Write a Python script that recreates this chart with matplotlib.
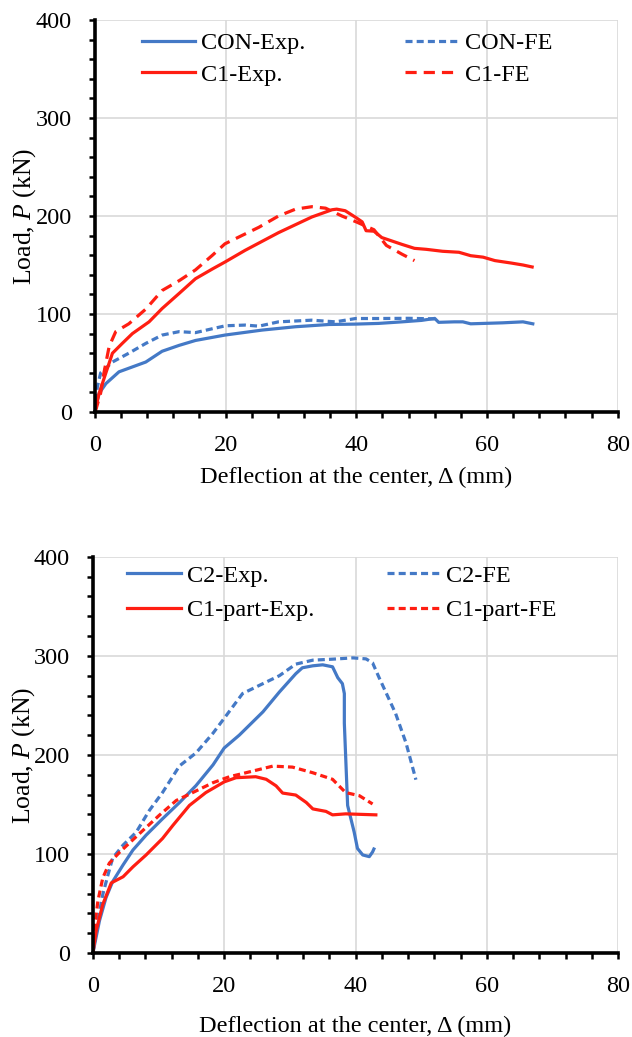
import numpy as np
import matplotlib
matplotlib.use('Agg')
import matplotlib.pyplot as plt
from matplotlib.ticker import MultipleLocator

plt.rcParams['font.family'] = ['Liberation Serif', 'DejaVu Serif']
plt.rcParams['mathtext.fontset'] = 'custom'
plt.rcParams['mathtext.rm'] = 'Liberation Serif'
plt.rcParams['mathtext.it'] = 'Liberation Serif:italic'

# --- top panel data (deflection mm, load kN) ---
con_exp_x = [0, 0.3, 0.66, 1.7, 3.7, 5.75, 7.8, 10.3, 12.9, 15.4, 19.9, 25.6, 30.7, 35.8, 39.9, 43.4,
             47, 50, 52, 52.6, 55, 56.3, 57.5, 60, 62.4, 65.5, 67]
con_exp_y = [0, 10, 19, 29, 41, 46, 51, 62, 68, 73, 78.5, 83.6, 87, 89.3, 89.7, 90.4,
             92, 93.5, 95.5, 91.5, 92, 92, 90, 90.5, 91, 92, 90]
con_fe_x = [0, 0.4, 0.9, 2.7, 5.2, 7.8, 10.3, 12.9, 15.4, 18, 20, 23, 25.1, 28.1, 33.2, 36.8, 39.9, 43.4, 48, 52]
con_fe_y = [0, 26, 40, 51, 60, 70, 78.5, 82, 81, 85, 88, 88.7, 87.6, 92, 93.7, 92, 95.4, 95.4, 95.6, 95]
c1_exp_x = [0, 0.66, 1.7, 2.7, 4.2, 5.75, 8.3, 10.3, 12.9, 15.4, 18, 19.9, 23, 28.1, 33.2, 36.3, 37, 38.3,
            39.9, 40.9, 41.5, 42.7, 43.9, 47, 48.9, 50.7, 53.2, 55.7, 57.5, 59.4, 61.2, 63.7, 65.5, 66.9]
c1_exp_y = [0, 19, 40, 60, 70, 80, 92, 105.6, 121, 136, 146, 153, 165, 183, 199, 206.4, 207, 205.4,
            198.6, 194, 185, 184.5, 178, 171, 167, 166, 164, 163, 159.5, 158, 154.5, 152, 150, 148]
c1_fe_x = [0, 0.15, 0.9, 1.4, 2.2, 3.2, 5.2, 7.8, 10.3, 12.9, 15.4, 18, 19.9, 23, 25.1, 28.1, 30.7, 33.2,
           35.3, 37.8, 40, 42.7, 44.6, 47, 48.9]
c1_fe_y = [0, 2, 19.5, 40, 67, 82, 90, 105, 124, 134, 145, 160, 171.6, 181.7, 188.5, 200, 207, 209.5,
           208, 200, 194, 186, 170, 161, 154.5]

# --- bottom panel data ---
c2_exp_x = [0, 1, 2, 3, 4.6, 6.1, 8.1, 10.6, 13.2, 15.7, 18.3, 20, 22.3, 25.9, 28.4, 30.9, 31.9, 33.5, 35,
            36.5, 37.3, 38, 38.3, 38.3, 38.5, 38.8, 39.3, 39.8, 40.3, 41.1, 42.1, 42.6, 42.8]
c2_exp_y = [0, 32.6, 56, 72, 89, 104, 119, 135.5, 152, 169, 190, 207, 220, 243.5, 263.5, 282, 288, 290, 291,
            289, 278, 272, 262, 232, 198.7, 149, 135.5, 122, 105.6, 99, 97.3, 102, 105]
c2_fe_x = [0, 0.76, 1.5, 2.3, 3, 4.6, 6.6, 8.6, 10.6, 13.2, 15.7, 18.3, 20, 22.8, 25.9, 28.4, 30.9, 33.5,
           36.5, 39.6, 41.6, 42.6, 43.6, 46.1, 47.7, 49.2]
c2_fe_y = [0, 32.6, 59, 79, 95.7, 109, 122, 144, 162, 189, 202, 222, 237, 262, 272, 280, 291.7, 295.7,
           296.7, 298, 297, 293, 278, 242, 212, 175]
c1p_exp_x = [0, 0.5, 1.5, 2.8, 4.6, 6.1, 8.1, 10.6, 12.2, 14.7, 17.2, 20, 21.8, 24.8, 26.4, 27.9, 28.9,
             30.9, 32.5, 33.5, 35.5, 36.5, 38.5, 43.1]
c1p_exp_y = [0, 22.6, 49, 70.8, 77, 87, 99, 115.6, 129, 149, 162, 172.8, 177, 178, 175.4, 168.8, 161.5,
             159.5, 152, 145.5, 143, 139.5, 140.5, 139.5]
c1p_fe_x = [0, 0.25, 0.76, 1.5, 2.5, 4.1, 7.1, 10.1, 12.7, 15.2, 18.3, 20.8, 23.3, 27.4, 30.4, 33.5,
            36.5, 38.5, 40.6, 42.6]
c1p_fe_y = [0, 26, 52.5, 75.7, 90.7, 102, 120.6, 139, 154, 162, 172, 178, 182, 188.7, 187.7, 182,
            175.4, 162, 158.8, 150.5]

blue = '#4479C6'
red = '#FF1E12'
lw = 2.3
fs = 17.5

fig = plt.figure(figsize=(6.32, 10.37), dpi=100)
ax1 = fig.add_axes([0.150, 0.6027, 0.8275, 0.378])
ax2 = fig.add_axes([0.147, 0.081, 0.831, 0.382])


def style(ax):
    ax.set_xlim(0, 80)
    ax.set_ylim(0, 400)
    ax.xaxis.set_major_locator(MultipleLocator(20))
    ax.xaxis.set_minor_locator(MultipleLocator(4))
    ax.yaxis.set_major_locator(MultipleLocator(100))
    ax.yaxis.set_minor_locator(MultipleLocator(20))
    ax.grid(True, which='major', color='#d9d9d9', lw=1.2)
    ax.set_axisbelow(True)
    for s in ['top', 'right']:
        ax.spines[s].set_visible(False)
    for s in ['left', 'bottom']:
        ax.spines[s].set_linewidth(2.6)
    ax.tick_params(which='both', direction='out', length=4.5, width=1.8, labelsize=fs, pad=12)
    ax.set_ylabel('Load, $\\mathit{P}$ (kN)', fontsize=18.5, labelpad=-2)


# top panel
ax1.plot(con_exp_x, con_exp_y, color=blue, lw=lw, label='CON-Exp.')
ax1.plot(con_fe_x, con_fe_y, color=blue, lw=lw, dashes=(2.2, 1.3), label='CON-FE')
ax1.plot(c1_exp_x, c1_exp_y, color=red, lw=lw, label='C1-Exp.')
ax1.plot(c1_fe_x, c1_fe_y, color=red, lw=lw, dashes=(3.5, 2.2), label='C1-FE')
style(ax1)
ax1.set_xlabel('Deflection at the center, Δ (mm)', fontsize=fs, labelpad=8)
h, l = ax1.get_legend_handles_labels()
order = [0, 2, 1, 3]
ax1.legend([h[i] for i in order], [l[i] for i in order], ncol=2, frameon=False, fontsize=fs,
           loc='upper left', bbox_to_anchor=(0.09, 0.969), borderaxespad=0, borderpad=0,
           handlelength=2.2, handletextpad=0.25, columnspacing=4.1, labelspacing=0.39)

# bottom panel
ax2.plot(c2_exp_x, c2_exp_y, color=blue, lw=lw, label='C2-Exp.')
ax2.plot(c2_fe_x, c2_fe_y, color=blue, lw=lw, dashes=(2.2, 1.3), label='C2-FE')
ax2.plot(c1p_exp_x, c1p_exp_y, color=red, lw=lw, label='C1-part-Exp.')
ax2.plot(c1p_fe_x, c1p_fe_y, color=red, lw=lw, dashes=(2.2, 1.3), label='C1-part-FE')
style(ax2)
ax2.set_xlabel('Deflection at the center, Δ (mm)', fontsize=fs, labelpad=14)
h, l = ax2.get_legend_handles_labels()
ax2.legend([h[i] for i in order], [l[i] for i in order], ncol=2, frameon=False, fontsize=fs,
           loc='upper left', bbox_to_anchor=(0.065, 0.98), borderaxespad=0, borderpad=0,
           handlelength=2.2, handletextpad=0.25, columnspacing=3.0, labelspacing=0.51)

fig.savefig('out.png', dpi=100)
